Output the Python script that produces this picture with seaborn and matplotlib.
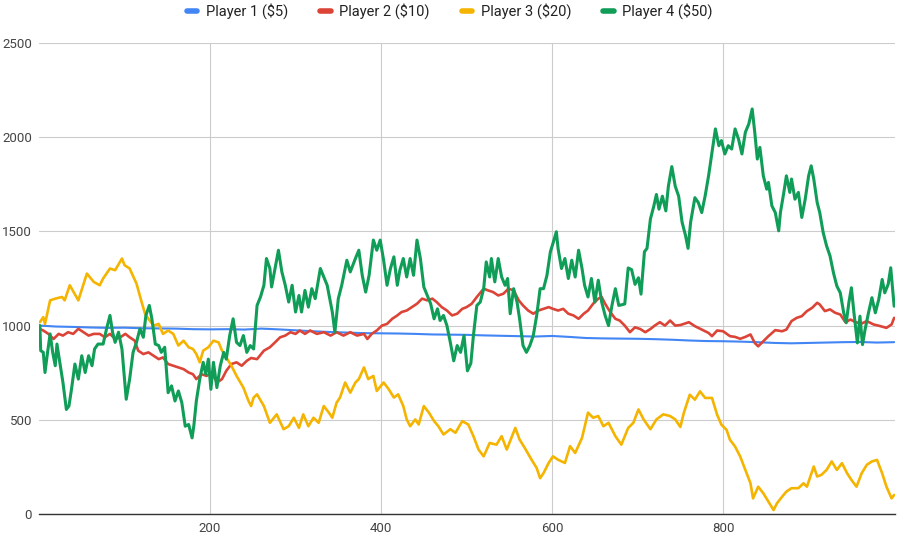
import numpy as np
import pandas as pd
import seaborn as sns
import matplotlib.pyplot as plt

# values (step, bankroll)
p1_x = [1, 20, 40, 60, 80, 100, 120, 140, 160, 180, 200, 220, 240, 260, 280, 300, 320, 340, 360, 380,
        400, 420, 440, 460, 480, 500, 520, 540, 560, 580, 600, 620, 640, 660, 680, 700, 720, 740, 760,
        780, 800, 820, 840, 860, 880, 900, 920, 940, 960, 980, 1000]
p1_y = [1000, 995, 993, 990, 988, 989, 986, 985, 984, 981, 980, 981, 979, 984, 980, 975, 970, 966, 963, 960,
        959, 958, 956, 953, 952, 951, 948, 946, 944, 942, 945, 940, 934, 932, 931, 930, 928, 925, 921,
        918, 917, 915, 912, 908, 906, 908, 910, 912, 913, 910, 912]

p2_x = [1, 5, 11, 17, 23, 28, 34, 40, 46, 52, 58, 64, 71, 77, 83, 89, 95, 101, 106, 112, 116, 122, 128,
        134, 140, 145, 151, 157, 163, 169, 175, 180, 184, 190, 196, 202, 208, 214, 219, 225, 231, 237,
        243, 248, 255, 263, 270, 276, 282, 288, 294, 300, 305, 311, 317, 325, 333, 341, 348, 356, 364,
        372, 380, 384, 389, 395, 401, 407, 413, 419, 424, 430, 436, 442, 448, 454, 460, 465, 471, 477,
        483, 489, 495, 500, 506, 512, 520, 525, 531, 537, 543, 549, 555, 561, 566, 572, 578, 584, 590,
        596, 601, 607, 613, 619, 625, 631, 637, 642, 648, 654, 658, 662, 668, 674, 679, 685, 691, 697,
        703, 709, 715, 720, 726, 732, 738, 744, 750, 760, 767, 775, 783, 787, 793, 800, 808, 814, 820,
        826, 832, 837, 841, 847, 853, 861, 869, 874, 880, 886, 892, 898, 904, 910, 913, 919, 925, 931,
        937, 943, 949, 955, 962, 968, 976, 984, 991, 997, 1000]
p2_y = [982, 974, 956, 929, 956, 947, 965, 956, 983, 965, 947, 956, 956, 938, 956, 929, 938, 956, 938, 920,
        867, 849, 858, 840, 822, 831, 796, 787, 778, 769, 751, 742, 716, 742, 733, 751, 698, 716, 760,
        796, 805, 787, 813, 828, 822, 867, 885, 911, 938, 947, 965, 956, 974, 956, 974, 956, 965, 947,
        965, 947, 965, 947, 956, 929, 956, 974, 1000, 1009, 1036, 1054, 1072, 1080, 1098, 1116, 1143,
        1134, 1143, 1125, 1098, 1080, 1054, 1063, 1089, 1098, 1116, 1152, 1196, 1187, 1178, 1160, 1169,
        1196, 1187, 1134, 1107, 1080, 1063, 1080, 1089, 1098, 1089, 1080, 1089, 1063, 1054, 1036, 1063,
        1080, 1116, 1143, 1152, 1116, 1072, 1036, 1027, 1000, 965, 991, 982, 965, 982, 1000, 1018, 1000,
        1027, 1000, 1003, 1018, 997, 979, 961, 944, 974, 970, 944, 940, 930, 940, 953, 908, 890, 917,
        944, 976, 970, 979, 1024, 1041, 1050, 1077, 1094, 1121, 1112, 1077, 1086, 1068, 1059, 1018, 1032,
        1018, 1011, 1024, 1006, 997, 988, 1006, 1041]

p3_x = [1, 5, 7, 13, 19, 27, 30, 36, 46, 56, 64, 71, 75, 83, 89, 97, 100, 106, 114, 120, 124, 128, 134,
        140, 145, 151, 157, 163, 169, 175, 180, 184, 188, 192, 198, 204, 210, 214, 219, 225, 231, 239,
        245, 248, 251, 255, 263, 270, 278, 286, 292, 298, 304, 309, 315, 321, 327, 333, 339, 343, 348,
        352, 358, 364, 370, 374, 380, 385, 391, 395, 403, 409, 415, 420, 426, 430, 434, 440, 444, 450,
        456, 462, 467, 473, 481, 487, 495, 502, 508, 514, 520, 527, 535, 541, 547, 557, 562, 568, 576,
        582, 586, 590, 596, 601, 607, 615, 621, 627, 635, 642, 648, 654, 660, 666, 674, 681, 689, 695,
        701, 707, 715, 722, 730, 738, 744, 750, 754, 761, 767, 773, 779, 787, 793, 798, 804, 808, 814,
        820, 826, 832, 835, 841, 847, 853, 859, 863, 869, 874, 880, 888, 894, 898, 906, 910, 915, 921,
        927, 933, 939, 945, 950, 956, 962, 968, 974, 980, 986, 991, 997, 1000]
p3_y = [1018, 1045, 1009, 1134, 1143, 1152, 1134, 1214, 1134, 1276, 1232, 1214, 1250, 1303, 1294, 1356,
        1321, 1303, 1223, 1125, 1063, 1036, 1000, 1009, 956, 974, 956, 894, 920, 885, 876, 849, 805, 867,
        885, 920, 911, 867, 831, 787, 733, 671, 600, 573, 618, 635, 573, 484, 529, 450, 466, 511, 457,
        529, 466, 511, 484, 573, 538, 511, 591, 618, 698, 644, 698, 716, 778, 716, 733, 653, 698, 662,
        618, 635, 573, 502, 466, 502, 475, 573, 538, 493, 466, 422, 450, 431, 493, 475, 413, 342, 306,
        377, 368, 413, 342, 457, 395, 351, 288, 244, 190, 217, 271, 306, 288, 271, 360, 324, 404, 538,
        511, 520, 466, 484, 413, 368, 457, 484, 555, 502, 450, 502, 529, 520, 502, 462, 536, 633, 607,
        651, 616, 616, 527, 474, 447, 394, 358, 305, 234, 163, 83, 145, 110, 66, 21, 57, 92, 119, 137,
        137, 163, 145, 252, 199, 208, 234, 279, 234, 270, 216, 181, 145, 216, 261, 279, 287, 216, 145,
        83, 101]

p4_x = [1, 2, 5, 7, 10, 13, 16, 19, 21, 25, 28, 32, 35, 38, 42, 46, 50, 54, 58, 62, 65, 69, 75, 79, 83,
        86, 89, 93, 97, 100, 102, 106, 110, 114, 118, 122, 125, 129, 132, 136, 140, 143, 147, 151, 155,
        159, 163, 167, 171, 175, 179, 181, 184, 188, 192, 195, 198, 201, 204, 208, 212, 216, 219, 223,
        227, 231, 235, 239, 243, 247, 251, 255, 259, 263, 266, 270, 272, 276, 280, 284, 288, 292, 296,
        300, 304, 307, 311, 315, 319, 323, 329, 333, 337, 343, 346, 350, 354, 360, 364, 370, 374, 378,
        382, 386, 391, 395, 399, 403, 407, 411, 415, 419, 422, 426, 430, 434, 438, 442, 446, 450, 454,
        458, 462, 466, 469, 473, 477, 481, 485, 489, 493, 497, 501, 505, 508, 512, 516, 520, 523, 527,
        529, 533, 537, 541, 545, 548, 551, 555, 559, 562, 566, 570, 574, 578, 582, 586, 590, 594, 598,
        601, 605, 607, 611, 615, 619, 623, 627, 631, 635, 638, 642, 646, 650, 654, 658, 662, 666, 670,
        674, 678, 681, 685, 689, 693, 697, 701, 704, 708, 711, 715, 719, 722, 725, 729, 733, 736, 740,
        744, 748, 752, 756, 759, 762, 767, 771, 775, 779, 783, 787, 791, 795, 798, 802, 806, 810, 814,
        818, 822, 826, 830, 834, 837, 840, 843, 847, 851, 853, 857, 861, 865, 867, 871, 874, 878, 880,
        884, 888, 892, 896, 900, 903, 906, 910, 913, 917, 921, 925, 929, 933, 937, 941, 944, 947, 950,
        953, 957, 960, 963, 966, 970, 974, 978, 982, 986, 989, 993, 996, 999, 1000]
p4_y = [1000, 867, 858, 751, 858, 956, 858, 787, 902, 787, 698, 555, 573, 662, 796, 716, 840, 751, 840,
        787, 876, 902, 902, 983, 1054, 965, 911, 965, 876, 716, 609, 716, 858, 911, 983, 938, 1054, 1107,
        1036, 902, 894, 858, 885, 644, 680, 600, 653, 591, 466, 475, 404, 466, 600, 716, 805, 742, 822,
        662, 805, 671, 787, 858, 822, 947, 1036, 911, 894, 947, 858, 894, 876, 1107, 1152, 1214, 1356,
        1303, 1205, 1303, 1400, 1285, 1214, 1125, 1214, 1072, 1160, 1072, 1187, 1098, 1196, 1143, 1303,
        1258, 1214, 1072, 965, 1143, 1214, 1347, 1285, 1356, 1400, 1267, 1178, 1267, 1454, 1400, 1454,
        1347, 1214, 1303, 1365, 1214, 1294, 1356, 1258, 1356, 1267, 1454, 1356, 1205, 1160, 1116, 1036,
        1089, 1027, 1054, 1000, 911, 813, 894, 858, 947, 760, 800, 947, 1107, 1125, 1196, 1338, 1258,
        1356, 1232, 1356, 1258, 1214, 1250, 1063, 1196, 1125, 1036, 894, 858, 894, 947, 1054, 1196, 1196,
        1267, 1392, 1436, 1498, 1409, 1303, 1356, 1250, 1347, 1258, 1400, 1303, 1214, 1152, 1250, 1125,
        1241, 1125, 1054, 1000, 1107, 1196, 1107, 1110, 1115, 1306, 1297, 1219, 1254, 1167, 1392, 1410,
        1566, 1635, 1696, 1618, 1687, 1609, 1740, 1844, 1740, 1687, 1549, 1479, 1410, 1549, 1679, 1653,
        1600, 1689, 1795, 1919, 2044, 1955, 1982, 1911, 1955, 1937, 2044, 1990, 1911, 2026, 2070, 2150,
        2026, 1884, 1946, 1795, 1724, 1760, 1636, 1600, 1503, 1600, 1707, 1795, 1707, 1778, 1671, 1707,
        1574, 1671, 1795, 1848, 1778, 1653, 1600, 1494, 1423, 1370, 1281, 1210, 1174, 1068, 1015, 1121,
        1201, 1068, 908, 1050, 899, 979, 1068, 1148, 1068, 1139, 1245, 1174, 1219, 1307, 1157, 1103]

players = ['Player 1 ($5)', 'Player 2 ($10)', 'Player 3 ($20)', 'Player 4 ($50)']
colors = ['#4285F4', '#DB4437', '#F4B400', '#0F9D58']
widths = [1.5, 1.9, 1.9, 2.2]

frames = []
for name, xs, ys in zip(players, [p1_x, p2_x, p3_x, p4_x], [p1_y, p2_y, p3_y, p4_y]):
    frames.append(pd.DataFrame({'step': xs, 'bankroll': ys, 'player': name}))
data = pd.concat(frames, ignore_index=True)

sns.set_style("white")
plt.rcParams['font.family'] = ['Roboto', 'DejaVu Sans']

fig = plt.figure(figsize=(9, 5.39), dpi=100)
ax = fig.add_axes([39 / 900, 1 - 514 / 539, 856 / 900, 471 / 539])

for name, col, lw in zip(players, colors, widths):
    sub = data[data['player'] == name]
    sns.lineplot(data=sub, x='step', y='bankroll', color=col, linewidth=lw,
                 estimator=None, sort=False, label=name, ax=ax)

ax.set_xlim(0, 1001)
ax.set_ylim(0, 2500)
ax.set_xticks([200, 400, 600, 800])
ax.set_yticks([0, 500, 1000, 1500, 2000, 2500])
ax.set_xlabel('')
ax.set_ylabel('')
ax.grid(True, color='#cccccc', linewidth=0.8)
ax.set_axisbelow(True)
for s in ['top', 'right', 'left']:
    ax.spines[s].set_visible(False)
ax.spines['bottom'].set_color('#333333')
ax.spines['bottom'].set_linewidth(1.0)
ax.spines['bottom'].set_zorder(5)
ax.tick_params(axis='both', length=0, labelsize=9.5, labelcolor='#444444')
ax.tick_params(axis='y', pad=5)
ax.tick_params(axis='x', pad=6)

handles, labels = ax.get_legend_handles_labels()
ax.get_legend().remove()
leg = fig.legend(handles, labels, loc='upper center', bbox_to_anchor=(0.5, 1.005), ncol=4,
                 frameon=False, fontsize=10.5, handlelength=0.7, handletextpad=0.6,
                 columnspacing=2.2, borderaxespad=0.0)
for h in leg.get_lines():
    h.set_linewidth(4)
    h.set_solid_capstyle('round')
for t in leg.get_texts():
    t.set_color('#222222')

fig.savefig('out.png', dpi=100)
